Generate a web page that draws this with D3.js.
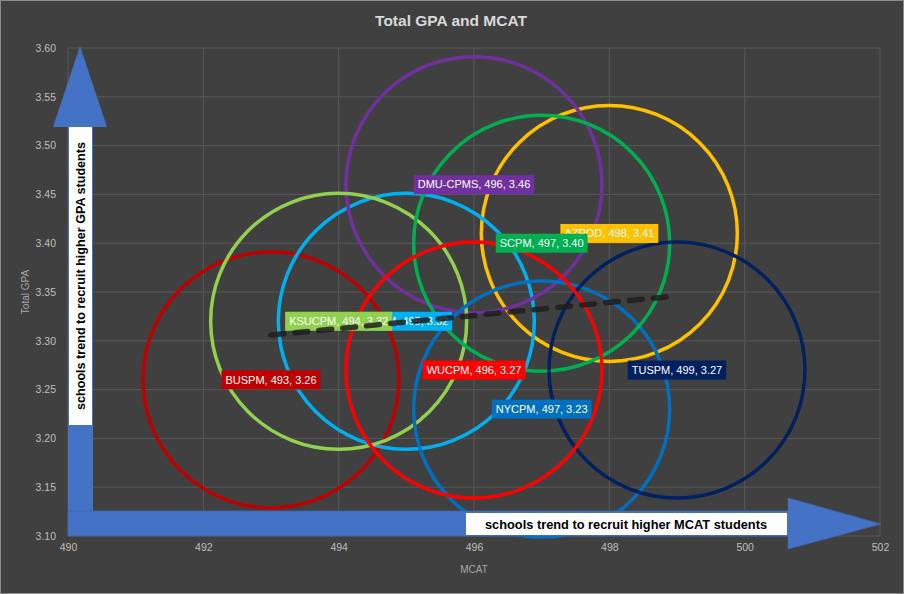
<!DOCTYPE html>
<html>
	<head>
		<meta charset="utf-8">
		<script src="https://cdnjs.cloudflare.com/ajax/libs/d3/7.8.5/d3.min.js"></script>
		<style>
			body{ margin:0; background:#404040; }
			svg{ display:block; font-family:"Liberation Sans", Arial, sans-serif; }
			.grid line{ stroke:#595959; stroke-width:1px; }
			.tick text{ fill:#bfbfbf; font-size:10.5px; }
		</style>
	</head>
	<body>
		<svg width="904" height="594"></svg>
		<script>
			// schools
			var schools = ["AZPOD", "BUSPM", "CSPM", "DMU-CPMS", "KSUCPM", "NYCPM", "SCPM", "TUSPM", "WUCPM"];
			var mcat = [498, 493, 495, 496, 494, 497, 497, 499, 496];
			var gpa = [3.41, 3.26, 3.32, 3.46, 3.32, 3.23, 3.40, 3.27, 3.27];
			var bubbleSize = [1, 1, 1, 1, 1, 1, 1, 1, 1];
			var lineColors = ["#FFC000", "#C00000", "#00B0F0", "#7030A0", "#92D050", "#0070C0", "#00B050", "#002060", "#FF0000"];
			var xTicks = [490, 492, 494, 496, 498, 500, 502];
			var yTicks = [3.10, 3.15, 3.20, 3.25, 3.30, 3.35, 3.40, 3.45, 3.50, 3.55, 3.60];

			var svg = d3.select("svg");
			var x = d3.scaleLinear().domain([490, 502]).range([68, 880]);
			var y = d3.scaleLinear().domain([3.10, 3.60]).range([536, 48]);
			var r = d3.scaleSqrt().domain([0, 1]).range([0, 128]);

			svg.append("rect").attr("x", 0.5).attr("y", 0.5).attr("width", 903).attr("height", 593)
				.attr("fill", "#404040").attr("stroke", "#8c8c8c");

			// grid
			var grid = svg.append("g").attr("class", "grid");
			grid.selectAll("line.v").data(xTicks).enter().append("line").attr("class", "v")
				.attr("x1", function(d){ return x(d); }).attr("x2", function(d){ return x(d); })
				.attr("y1", y(3.60)).attr("y2", y(3.10));
			grid.selectAll("line.h").data(yTicks).enter().append("line").attr("class", "h")
				.attr("x1", x(490)).attr("x2", x(502))
				.attr("y1", function(d){ return y(d); }).attr("y2", function(d){ return y(d); });

			// axes (labels only)
			svg.append("g").attr("transform", "translate(0," + (y(3.10) + 4) + ")")
				.call(d3.axisBottom(x).tickValues(xTicks).tickSize(0).tickPadding(4));
			svg.append("g").attr("transform", "translate(" + (x(490) - 12) + ",0)")
				.call(d3.axisLeft(y).tickValues(yTicks).tickFormat(d3.format(".2f")).tickSize(0).tickPadding(0));
			svg.selectAll(".domain").remove();
			svg.selectAll(".tick text").attr("font-family", "Liberation Sans, Arial, sans-serif");

			svg.append("text").attr("x", 451).attr("y", 26).attr("text-anchor", "middle")
				.attr("fill", "#d9d9d9").attr("font-weight", "bold").attr("font-size", "15.5px")
				.text("Total GPA and MCAT");
			svg.append("text").attr("x", (x(490) + x(502)) / 2).attr("y", 573).attr("text-anchor", "middle")
				.attr("fill", "#a6a6a6").attr("font-size", "10px").text("MCAT");
			svg.append("text").attr("transform", "translate(29," + ((y(3.10) + y(3.60)) / 2) + ") rotate(-90)")
				.attr("text-anchor", "middle").attr("fill", "#a6a6a6").attr("font-size", "10px").text("Total  GPA");

			// bubbles
			var idx = d3.range(schools.length);
			svg.append("g").selectAll("circle").data(idx).enter().append("circle")
				.attr("cx", function(i){ return x(mcat[i]); })
				.attr("cy", function(i){ return y(gpa[i]); })
				.attr("r", function(i){ return r(bubbleSize[i]); })
				.attr("fill", "none")
				.attr("stroke", function(i){ return lineColors[i]; })
				.attr("stroke-width", 3.5);

			// data labels
			var labels = svg.append("g").selectAll("g").data(idx).enter().append("g")
				.attr("transform", function(i){ return "translate(" + x(mcat[i]) + "," + y(gpa[i]) + ")"; });
			labels.append("rect").attr("fill", function(i){ return lineColors[i]; });
			labels.append("text").attr("text-anchor", "middle").attr("dy", "0.35em")
				.attr("fill", "#ffffff").attr("font-size", "11px")
				.text(function(i){ return schools[i] + ", " + mcat[i] + ", " + gpa[i].toFixed(2); });
			labels.each(function(){
				var g = d3.select(this);
				var w = g.select("text").node().getComputedTextLength();
				g.select("rect").attr("x", -w / 2 - 4).attr("y", -9.5).attr("width", w + 8).attr("height", 19);
			});

			// linear trendline
			var mx = d3.mean(mcat), my = d3.mean(gpa);
			var sxy = d3.sum(idx, function(i){ return (mcat[i] - mx) * (gpa[i] - my); });
			var sxx = d3.sum(idx, function(i){ return (mcat[i] - mx) * (mcat[i] - mx); });
			var slope = sxy / sxx, icpt = my - slope * mx;
			var xs = d3.extent(mcat);
			svg.append("line")
				.attr("x1", x(xs[0])).attr("y1", y(icpt + slope * xs[0]))
				.attr("x2", x(xs[1])).attr("y2", y(icpt + slope * xs[1]))
				.attr("stroke", "#1e1e1e").attr("stroke-opacity", 0.85).attr("stroke-width", 5.5)
				.attr("stroke-linecap", "round").attr("stroke-dasharray", "13,11");

			// block arrows
			var blue = "#4472C4";
			var x0 = x(490), yb = y(3.10);
			svg.append("path").attr("fill", blue)
				.attr("d", "M" + x0 + "," + (yb - 24) + "V127H53L80,46L107,127H93V" + (yb - 24) + "Z");
			svg.append("path").attr("fill", blue).attr("stroke", "#3d66b0").attr("stroke-width", 0.8)
				.attr("d", "M" + x0 + "," + (yb - 25) + "H788V498L881,524L788,549V" + yb + "H" + x0 + "Z");

			svg.append("rect").attr("x", 69).attr("y", 127).attr("width", 23).attr("height", 298).attr("fill", "#fff");
			svg.append("text").attr("transform", "translate(85,276) rotate(-90)").attr("text-anchor", "middle")
				.attr("font-weight", "bold").attr("font-size", "12.6px").attr("fill", "#000")
				.text("schools trend to recruit higher GPA students");
			svg.append("rect").attr("x", 466).attr("y", 513).attr("width", 321).attr("height", 22).attr("fill", "#fff");
			svg.append("text").attr("x", 626).attr("y", 528.5).attr("text-anchor", "middle")
				.attr("font-weight", "bold").attr("font-size", "12.8px").attr("fill", "#000")
				.text("schools trend to recruit higher MCAT students");
		</script>
	</body>
</html>
